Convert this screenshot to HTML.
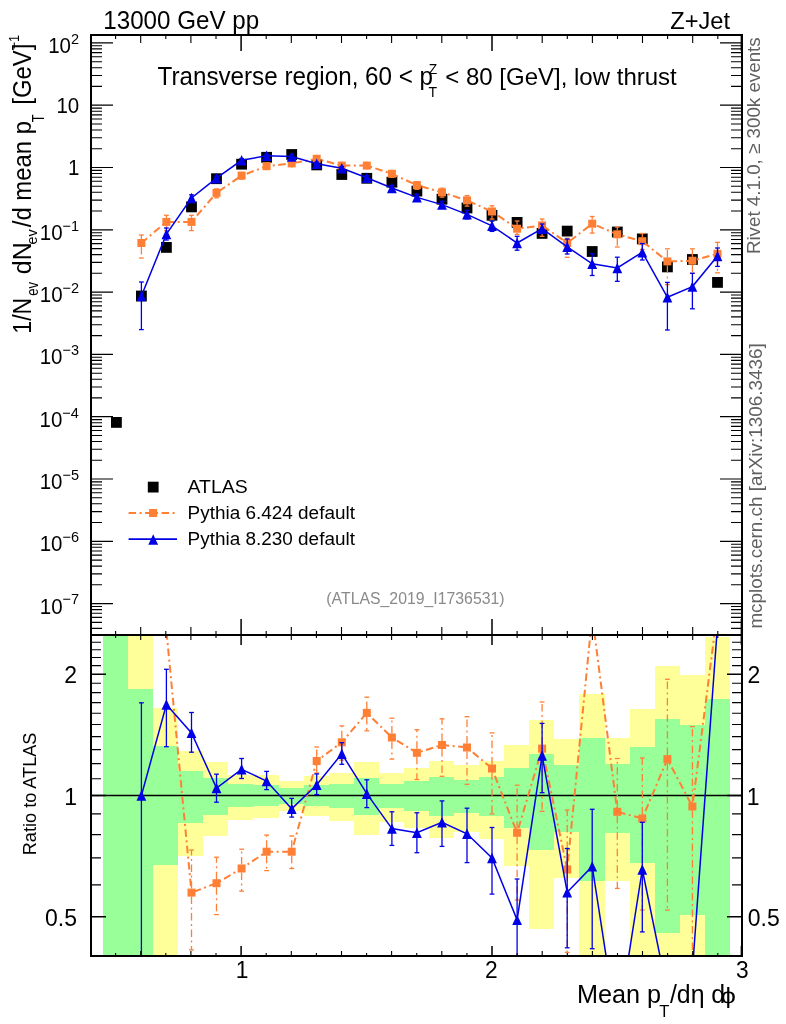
<!DOCTYPE html><html><head><meta charset="utf-8"><title>Z+Jet</title><style>html,body{margin:0;padding:0;background:#fff;}svg{display:block;}text{font-family:'Liberation Sans', Arial, Helvetica, sans-serif;}</style></head><body>
<svg width="786" height="1024" viewBox="0 0 786 1024">
<rect width="786" height="1024" fill="#fff"/>
<defs><clipPath id="ct"><rect x="91" y="35" width="651" height="600"/></clipPath>
<clipPath id="cr"><rect x="91" y="635" width="651" height="321"/></clipPath></defs>
<g clip-path="url(#cr)" shape-rendering="crispEdges">
<rect x="102.9" y="600" width="25.1" height="400" fill="#ffff99"/>
<rect x="102.9" y="600" width="25.1" height="400" fill="#99ff99"/>
<rect x="128" y="600" width="25.1" height="400" fill="#ffff99"/>
<rect x="128" y="689.4" width="25.1" height="310.6" fill="#99ff99"/>
<rect x="153.1" y="707.7" width="25.1" height="292.3" fill="#ffff99"/>
<rect x="153.1" y="746.1" width="25.1" height="118.6" fill="#99ff99"/>
<rect x="178.1" y="750.5" width="25.1" height="105.1" fill="#ffff99"/>
<rect x="178.1" y="771.3" width="25.1" height="51.9" fill="#99ff99"/>
<rect x="203.2" y="762.3" width="25.1" height="73.6" fill="#ffff99"/>
<rect x="203.2" y="778" width="25.1" height="37.2" fill="#99ff99"/>
<rect x="228.3" y="774.7" width="25.1" height="45.3" fill="#ffff99"/>
<rect x="228.3" y="784.3" width="25.1" height="22.8" fill="#99ff99"/>
<rect x="253.4" y="774.8" width="25.1" height="42.7" fill="#ffff99"/>
<rect x="253.4" y="785" width="25.1" height="21.3" fill="#99ff99"/>
<rect x="278.5" y="780.8" width="25.1" height="30.4" fill="#ffff99"/>
<rect x="278.5" y="788" width="25.1" height="15.8" fill="#99ff99"/>
<rect x="303.5" y="776.3" width="25.1" height="40.1" fill="#ffff99"/>
<rect x="303.5" y="785.2" width="25.1" height="20.6" fill="#99ff99"/>
<rect x="328.6" y="773.2" width="25.1" height="48" fill="#ffff99"/>
<rect x="328.6" y="783.9" width="25.1" height="24.1" fill="#99ff99"/>
<rect x="353.7" y="762.2" width="25.1" height="73.1" fill="#ffff99"/>
<rect x="353.7" y="778.2" width="25.1" height="36.8" fill="#99ff99"/>
<rect x="378.8" y="773.4" width="25.1" height="48.3" fill="#ffff99"/>
<rect x="378.8" y="783.9" width="25.1" height="24.1" fill="#99ff99"/>
<rect x="403.9" y="767.6" width="25.1" height="60.4" fill="#ffff99"/>
<rect x="403.9" y="780.9" width="25.1" height="30.2" fill="#99ff99"/>
<rect x="428.9" y="761.2" width="25.1" height="76.8" fill="#ffff99"/>
<rect x="428.9" y="777" width="25.1" height="39" fill="#99ff99"/>
<rect x="454" y="765" width="25.1" height="67.4" fill="#ffff99"/>
<rect x="454" y="779.5" width="25.1" height="33.3" fill="#99ff99"/>
<rect x="479.1" y="761.2" width="25.1" height="77.9" fill="#ffff99"/>
<rect x="479.1" y="777" width="25.1" height="39" fill="#99ff99"/>
<rect x="504.2" y="745" width="25.1" height="121.4" fill="#ffff99"/>
<rect x="504.2" y="767.9" width="25.1" height="59.6" fill="#99ff99"/>
<rect x="529.3" y="720.3" width="25.1" height="208.4" fill="#ffff99"/>
<rect x="529.3" y="753.8" width="25.1" height="96.2" fill="#99ff99"/>
<rect x="554.3" y="739.2" width="25.1" height="138.7" fill="#ffff99"/>
<rect x="554.3" y="765" width="25.1" height="66.7" fill="#99ff99"/>
<rect x="579.4" y="694" width="25.1" height="306" fill="#ffff99"/>
<rect x="579.4" y="738.1" width="25.1" height="142.9" fill="#99ff99"/>
<rect x="604.5" y="738.1" width="25.1" height="143" fill="#ffff99"/>
<rect x="604.5" y="763.9" width="25.1" height="69.5" fill="#99ff99"/>
<rect x="629.6" y="708.7" width="25.1" height="291.3" fill="#ffff99"/>
<rect x="629.6" y="746.5" width="25.1" height="116.7" fill="#99ff99"/>
<rect x="654.7" y="666.1" width="25.1" height="333.9" fill="#ffff99"/>
<rect x="654.7" y="719.2" width="25.1" height="213.3" fill="#99ff99"/>
<rect x="679.7" y="674.5" width="25.1" height="325.5" fill="#ffff99"/>
<rect x="679.7" y="724.9" width="25.1" height="190.1" fill="#99ff99"/>
<rect x="704.8" y="637.3" width="25.1" height="362.7" fill="#ffff99"/>
<rect x="704.8" y="698.9" width="25.1" height="301.1" fill="#99ff99"/>
</g>
<line x1="91" y1="795.5" x2="742" y2="795.5" stroke="#000" stroke-width="1.6"/>
<g clip-path="url(#cr)" stroke="#ff7f35" stroke-width="1.3" fill="none"><line x1="191.5" y1="888.6" x2="191.5" y2="850" stroke-dasharray="7.5 3.5 2 3.5"/><line x1="191.5" y1="896.6" x2="191.5" y2="949.9" stroke-dasharray="7.5 3.5 2 3.5"/><line x1="189.1" y1="850" x2="193.9" y2="850"/><line x1="189.1" y1="949.9" x2="193.9" y2="949.9"/><line x1="216.5" y1="879.2" x2="216.5" y2="857.2" stroke-dasharray="7.5 3.5 2 3.5"/><line x1="216.5" y1="887.2" x2="216.5" y2="914.6" stroke-dasharray="7.5 3.5 2 3.5"/><line x1="214.1" y1="857.2" x2="218.9" y2="857.2"/><line x1="214.1" y1="914.6" x2="218.9" y2="914.6"/><line x1="241.6" y1="864.5" x2="241.6" y2="849.2" stroke-dasharray="7.5 3.5 2 3.5"/><line x1="241.6" y1="872.5" x2="241.6" y2="891.1" stroke-dasharray="7.5 3.5 2 3.5"/><line x1="239.2" y1="849.2" x2="244" y2="849.2"/><line x1="239.2" y1="891.1" x2="244" y2="891.1"/><line x1="266.6" y1="847.7" x2="266.6" y2="835.1" stroke-dasharray="7.5 3.5 2 3.5"/><line x1="266.6" y1="855.7" x2="266.6" y2="870.6" stroke-dasharray="7.5 3.5 2 3.5"/><line x1="264.2" y1="835.1" x2="269" y2="835.1"/><line x1="264.2" y1="870.6" x2="269" y2="870.6"/><line x1="291.7" y1="847.7" x2="291.7" y2="836" stroke-dasharray="7.5 3.5 2 3.5"/><line x1="291.7" y1="855.7" x2="291.7" y2="868.5" stroke-dasharray="7.5 3.5 2 3.5"/><line x1="289.3" y1="836" x2="294.1" y2="836"/><line x1="289.3" y1="868.5" x2="294.1" y2="868.5"/><line x1="316.7" y1="757" x2="316.7" y2="747" stroke-dasharray="7.5 3.5 2 3.5"/><line x1="316.7" y1="765" x2="316.7" y2="773" stroke-dasharray="7.5 3.5 2 3.5"/><line x1="314.3" y1="747" x2="319.1" y2="747"/><line x1="314.3" y1="773" x2="319.1" y2="773"/><line x1="341.8" y1="738.3" x2="341.8" y2="725.9" stroke-dasharray="7.5 3.5 2 3.5"/><line x1="341.8" y1="746.3" x2="341.8" y2="760.1" stroke-dasharray="7.5 3.5 2 3.5"/><line x1="339.4" y1="725.9" x2="344.2" y2="725.9"/><line x1="339.4" y1="760.1" x2="344.2" y2="760.1"/><line x1="366.8" y1="708.9" x2="366.8" y2="697.2" stroke-dasharray="7.5 3.5 2 3.5"/><line x1="366.8" y1="716.9" x2="366.8" y2="730.8" stroke-dasharray="7.5 3.5 2 3.5"/><line x1="364.4" y1="697.2" x2="369.2" y2="697.2"/><line x1="364.4" y1="730.8" x2="369.2" y2="730.8"/><line x1="391.9" y1="733.5" x2="391.9" y2="718.2" stroke-dasharray="7.5 3.5 2 3.5"/><line x1="391.9" y1="741.5" x2="391.9" y2="759.1" stroke-dasharray="7.5 3.5 2 3.5"/><line x1="389.5" y1="718.2" x2="394.3" y2="718.2"/><line x1="389.5" y1="759.1" x2="394.3" y2="759.1"/><line x1="416.9" y1="748.8" x2="416.9" y2="729.7" stroke-dasharray="7.5 3.5 2 3.5"/><line x1="416.9" y1="756.8" x2="416.9" y2="779.5" stroke-dasharray="7.5 3.5 2 3.5"/><line x1="414.5" y1="729.7" x2="419.3" y2="729.7"/><line x1="414.5" y1="779.5" x2="419.3" y2="779.5"/><line x1="442" y1="741" x2="442" y2="718.8" stroke-dasharray="7.5 3.5 2 3.5"/><line x1="442" y1="749" x2="442" y2="776.3" stroke-dasharray="7.5 3.5 2 3.5"/><line x1="439.6" y1="718.8" x2="444.4" y2="718.8"/><line x1="439.6" y1="776.3" x2="444.4" y2="776.3"/><line x1="467" y1="743.5" x2="467" y2="716.7" stroke-dasharray="7.5 3.5 2 3.5"/><line x1="467" y1="751.5" x2="467" y2="784.3" stroke-dasharray="7.5 3.5 2 3.5"/><line x1="464.6" y1="716.7" x2="469.4" y2="716.7"/><line x1="464.6" y1="784.3" x2="469.4" y2="784.3"/><line x1="492" y1="764.5" x2="492" y2="732.9" stroke-dasharray="7.5 3.5 2 3.5"/><line x1="492" y1="772.5" x2="492" y2="813.9" stroke-dasharray="7.5 3.5 2 3.5"/><line x1="489.6" y1="732.9" x2="494.4" y2="732.9"/><line x1="489.6" y1="813.9" x2="494.4" y2="813.9"/><line x1="517.1" y1="828.8" x2="517.1" y2="785.2" stroke-dasharray="7.5 3.5 2 3.5"/><line x1="517.1" y1="836.8" x2="517.1" y2="900" stroke-dasharray="7.5 3.5 2 3.5"/><line x1="514.7" y1="785.2" x2="519.5" y2="785.2"/><line x1="514.7" y1="900" x2="519.5" y2="900"/><line x1="542.1" y1="744.6" x2="542.1" y2="702" stroke-dasharray="7.5 3.5 2 3.5"/><line x1="542.1" y1="752.6" x2="542.1" y2="811.3" stroke-dasharray="7.5 3.5 2 3.5"/><line x1="539.7" y1="702" x2="544.5" y2="702"/><line x1="539.7" y1="811.3" x2="544.5" y2="811.3"/><line x1="567.2" y1="865.5" x2="567.2" y2="810.1" stroke-dasharray="7.5 3.5 2 3.5"/><line x1="567.2" y1="873.5" x2="567.2" y2="952.4" stroke-dasharray="7.5 3.5 2 3.5"/><line x1="564.8" y1="810.1" x2="569.6" y2="810.1"/><line x1="564.8" y1="952.4" x2="569.6" y2="952.4"/><line x1="617.3" y1="807.8" x2="617.3" y2="758.5" stroke-dasharray="7.5 3.5 2 3.5"/><line x1="617.3" y1="815.8" x2="617.3" y2="888.4" stroke-dasharray="7.5 3.5 2 3.5"/><line x1="614.9" y1="758.5" x2="619.7" y2="758.5"/><line x1="614.9" y1="888.4" x2="619.7" y2="888.4"/><line x1="642.3" y1="814.5" x2="642.3" y2="758" stroke-dasharray="7.5 3.5 2 3.5"/><line x1="642.3" y1="822.5" x2="642.3" y2="910" stroke-dasharray="7.5 3.5 2 3.5"/><line x1="639.9" y1="758" x2="644.7" y2="758"/><line x1="639.9" y1="910" x2="644.7" y2="910"/><line x1="667.4" y1="755.1" x2="667.4" y2="679.3" stroke-dasharray="7.5 3.5 2 3.5"/><line x1="667.4" y1="763.1" x2="667.4" y2="910" stroke-dasharray="7.5 3.5 2 3.5"/><line x1="665" y1="679.3" x2="669.8" y2="679.3"/><line x1="665" y1="910" x2="669.8" y2="910"/><line x1="692.4" y1="802.5" x2="692.4" y2="726.6" stroke-dasharray="7.5 3.5 2 3.5"/><line x1="692.4" y1="810.5" x2="692.4" y2="1000" stroke-dasharray="7.5 3.5 2 3.5"/><line x1="690" y1="726.6" x2="694.8" y2="726.6"/><line x1="690" y1="1000" x2="694.8" y2="1000"/></g>
<g clip-path="url(#cr)"><polyline points="141.4,452.5 166.4,630.6 191.5,892.6 216.5,883.2 241.6,868.5 266.6,851.7 291.7,851.7 316.7,761 341.8,742.3 366.8,712.9 391.9,737.5 416.9,752.8 442,745 467,747.5 492,768.5 517.1,832.8 542.1,748.6 567.2,869.5 592.2,615.7 617.3,811.8 642.3,818.5 667.4,759.1 692.4,806.5 717.5,610.5" fill="none" stroke="#ff7f35" stroke-width="2" stroke-dasharray="7.5 3.5 2 3.5" stroke-linejoin="miter"/></g>
<g clip-path="url(#cr)" fill="#ff7f35"><rect x="137.4" y="448.5" width="8" height="8"/><rect x="162.4" y="626.6" width="8" height="8"/><rect x="187.5" y="888.6" width="8" height="8"/><rect x="212.5" y="879.2" width="8" height="8"/><rect x="237.6" y="864.5" width="8" height="8"/><rect x="262.6" y="847.7" width="8" height="8"/><rect x="287.7" y="847.7" width="8" height="8"/><rect x="312.7" y="757" width="8" height="8"/><rect x="337.8" y="738.3" width="8" height="8"/><rect x="362.8" y="708.9" width="8" height="8"/><rect x="387.9" y="733.5" width="8" height="8"/><rect x="412.9" y="748.8" width="8" height="8"/><rect x="438" y="741" width="8" height="8"/><rect x="463" y="743.5" width="8" height="8"/><rect x="488" y="764.5" width="8" height="8"/><rect x="513.1" y="828.8" width="8" height="8"/><rect x="538.1" y="744.6" width="8" height="8"/><rect x="563.2" y="865.5" width="8" height="8"/><rect x="588.2" y="611.7" width="8" height="8"/><rect x="613.3" y="807.8" width="8" height="8"/><rect x="638.3" y="814.5" width="8" height="8"/><rect x="663.4" y="755.1" width="8" height="8"/><rect x="688.4" y="802.5" width="8" height="8"/><rect x="713.5" y="606.5" width="8" height="8"/></g>
<g clip-path="url(#cr)" stroke="#0000e6" stroke-width="1.3" fill="none"><line x1="141.4" y1="702.8" x2="141.4" y2="1000"/><line x1="139" y1="702.8" x2="143.8" y2="702.8"/><line x1="139" y1="1000" x2="143.8" y2="1000"/><line x1="166.4" y1="669.3" x2="166.4" y2="746.7"/><line x1="164" y1="669.3" x2="168.8" y2="669.3"/><line x1="164" y1="746.7" x2="168.8" y2="746.7"/><line x1="191.5" y1="712.5" x2="191.5" y2="752.2"/><line x1="189.1" y1="712.5" x2="193.9" y2="712.5"/><line x1="189.1" y1="752.2" x2="193.9" y2="752.2"/><line x1="216.5" y1="774.2" x2="216.5" y2="802.2"/><line x1="214.1" y1="774.2" x2="218.9" y2="774.2"/><line x1="214.1" y1="802.2" x2="218.9" y2="802.2"/><line x1="241.6" y1="758.5" x2="241.6" y2="778.5"/><line x1="239.2" y1="758.5" x2="244" y2="758.5"/><line x1="239.2" y1="778.5" x2="244" y2="778.5"/><line x1="266.6" y1="771.4" x2="266.6" y2="789.6"/><line x1="264.2" y1="771.4" x2="269" y2="771.4"/><line x1="264.2" y1="789.6" x2="269" y2="789.6"/><line x1="291.7" y1="798.4" x2="291.7" y2="817.1"/><line x1="289.3" y1="798.4" x2="294.1" y2="798.4"/><line x1="289.3" y1="817.1" x2="294.1" y2="817.1"/><line x1="316.7" y1="773.9" x2="316.7" y2="794.6"/><line x1="314.3" y1="773.9" x2="319.1" y2="773.9"/><line x1="314.3" y1="794.6" x2="319.1" y2="794.6"/><line x1="341.8" y1="742.7" x2="341.8" y2="764.3"/><line x1="339.4" y1="742.7" x2="344.2" y2="742.7"/><line x1="339.4" y1="764.3" x2="344.2" y2="764.3"/><line x1="366.8" y1="779.8" x2="366.8" y2="807.6"/><line x1="364.4" y1="779.8" x2="369.2" y2="779.8"/><line x1="364.4" y1="807.6" x2="369.2" y2="807.6"/><line x1="391.9" y1="811.8" x2="391.9" y2="845.4"/><line x1="389.5" y1="811.8" x2="394.3" y2="811.8"/><line x1="389.5" y1="845.4" x2="394.3" y2="845.4"/><line x1="416.9" y1="812.8" x2="416.9" y2="852.7"/><line x1="414.5" y1="812.8" x2="419.3" y2="812.8"/><line x1="414.5" y1="852.7" x2="419.3" y2="852.7"/><line x1="442" y1="800.9" x2="442" y2="846.4"/><line x1="439.6" y1="800.9" x2="444.4" y2="800.9"/><line x1="439.6" y1="846.4" x2="444.4" y2="846.4"/><line x1="467" y1="808.2" x2="467" y2="862.6"/><line x1="464.6" y1="808.2" x2="469.4" y2="808.2"/><line x1="464.6" y1="862.6" x2="469.4" y2="862.6"/><line x1="492" y1="827.5" x2="492" y2="894.1"/><line x1="489.6" y1="827.5" x2="494.4" y2="827.5"/><line x1="489.6" y1="894.1" x2="494.4" y2="894.1"/><line x1="517.1" y1="879" x2="517.1" y2="1000"/><line x1="514.7" y1="879" x2="519.5" y2="879"/><line x1="514.7" y1="1000" x2="519.5" y2="1000"/><line x1="542.1" y1="723.4" x2="542.1" y2="792.7"/><line x1="539.7" y1="723.4" x2="544.5" y2="723.4"/><line x1="539.7" y1="792.7" x2="544.5" y2="792.7"/><line x1="567.2" y1="848.5" x2="567.2" y2="947.8"/><line x1="564.8" y1="848.5" x2="569.6" y2="848.5"/><line x1="564.8" y1="947.8" x2="569.6" y2="947.8"/><line x1="592.2" y1="809.3" x2="592.2" y2="948.7"/><line x1="589.8" y1="809.3" x2="594.6" y2="809.3"/><line x1="589.8" y1="948.7" x2="594.6" y2="948.7"/><line x1="642.3" y1="822.3" x2="642.3" y2="931.9"/><line x1="639.9" y1="822.3" x2="644.7" y2="822.3"/><line x1="639.9" y1="931.9" x2="644.7" y2="931.9"/></g>
<g clip-path="url(#cr)"><polyline points="141.4,795.5 166.4,704.5 191.5,732.9 216.5,788 241.6,769.3 266.6,781 291.7,808.8 316.7,784.7 341.8,753.8 366.8,793.7 391.9,828.6 416.9,832.8 442,822.3 467,833.8 492,858 517.1,919.9 542.1,755.5 567.2,892.2 592.2,866.4 617.3,1028.4 642.3,869.5 667.4,992.2 692.4,970.8 717.5,625.4" fill="none" stroke="#0000e6" stroke-width="1.5"  stroke-linejoin="miter"/></g>
<g clip-path="url(#cr)" fill="#0000e6"><polygon points="136.5,800.7 146.3,800.7 141.4,790.3"/><polygon points="161.5,709.7 171.3,709.7 166.4,699.3"/><polygon points="186.6,738.1 196.4,738.1 191.5,727.7"/><polygon points="211.6,793.2 221.4,793.2 216.5,782.8"/><polygon points="236.7,774.5 246.5,774.5 241.6,764.1"/><polygon points="261.7,786.2 271.5,786.2 266.6,775.8"/><polygon points="286.8,814 296.6,814 291.7,803.6"/><polygon points="311.8,789.9 321.6,789.9 316.7,779.5"/><polygon points="336.9,759 346.7,759 341.8,748.6"/><polygon points="361.9,798.9 371.7,798.9 366.8,788.5"/><polygon points="387,833.8 396.8,833.8 391.9,823.4"/><polygon points="412,838 421.8,838 416.9,827.6"/><polygon points="437.1,827.5 446.9,827.5 442,817.1"/><polygon points="462.1,839 471.9,839 467,828.6"/><polygon points="487.1,863.2 496.9,863.2 492,852.8"/><polygon points="512.2,925.1 522,925.1 517.1,914.7"/><polygon points="537.2,760.7 547,760.7 542.1,750.3"/><polygon points="562.3,897.4 572.1,897.4 567.2,887"/><polygon points="587.3,871.6 597.1,871.6 592.2,861.2"/><polygon points="612.4,1033.6 622.2,1033.6 617.3,1023.2"/><polygon points="637.4,874.7 647.2,874.7 642.3,864.3"/><polygon points="662.5,997.4 672.3,997.4 667.4,987"/><polygon points="687.5,976 697.3,976 692.4,965.6"/><polygon points="712.6,630.6 722.4,630.6 717.5,620.2"/></g>
<g clip-path="url(#ct)" fill="#000"><rect x="111" y="417" width="10.8" height="10.8"/><rect x="136" y="290.6" width="10.8" height="10.8"/><rect x="161" y="242" width="10.8" height="10.8"/><rect x="186.1" y="201.5" width="10.8" height="10.8"/><rect x="211.1" y="173.3" width="10.8" height="10.8"/><rect x="236.2" y="158.8" width="10.8" height="10.8"/><rect x="261.2" y="151.9" width="10.8" height="10.8"/><rect x="286.3" y="149.1" width="10.8" height="10.8"/><rect x="311.3" y="159.5" width="10.8" height="10.8"/><rect x="336.4" y="169.1" width="10.8" height="10.8"/><rect x="361.4" y="172.9" width="10.8" height="10.8"/><rect x="386.5" y="176.8" width="10.8" height="10.8"/><rect x="411.5" y="185.7" width="10.8" height="10.8"/><rect x="436.6" y="193.8" width="10.8" height="10.8"/><rect x="461.6" y="202.6" width="10.8" height="10.8"/><rect x="486.6" y="209.9" width="10.8" height="10.8"/><rect x="511.7" y="217" width="10.8" height="10.8"/><rect x="536.7" y="228" width="10.8" height="10.8"/><rect x="561.8" y="225.7" width="10.8" height="10.8"/><rect x="586.8" y="246.1" width="10.8" height="10.8"/><rect x="611.9" y="226.6" width="10.8" height="10.8"/><rect x="636.9" y="233.5" width="10.8" height="10.8"/><rect x="662" y="261.5" width="10.8" height="10.8"/><rect x="687" y="254.1" width="10.8" height="10.8"/><rect x="712.1" y="277" width="10.8" height="10.8"/></g>
<g clip-path="url(#ct)" stroke="#ff7f35" stroke-width="1.3" fill="none"><line x1="141.4" y1="239" x2="141.4" y2="235" stroke-dasharray="7.5 3.5 2 3.5"/><line x1="141.4" y1="247" x2="141.4" y2="258" stroke-dasharray="7.5 3.5 2 3.5"/><line x1="139" y1="235" x2="143.8" y2="235"/><line x1="139" y1="258" x2="143.8" y2="258"/><line x1="166.4" y1="217.9" x2="166.4" y2="215.3" stroke-dasharray="7.5 3.5 2 3.5"/><line x1="166.4" y1="225.9" x2="166.4" y2="230.6" stroke-dasharray="7.5 3.5 2 3.5"/><line x1="164" y1="215.3" x2="168.8" y2="215.3"/><line x1="164" y1="230.6" x2="168.8" y2="230.6"/><line x1="191.5" y1="217.9" x2="191.5" y2="215.3" stroke-dasharray="7.5 3.5 2 3.5"/><line x1="191.5" y1="225.9" x2="191.5" y2="230.6" stroke-dasharray="7.5 3.5 2 3.5"/><line x1="189.1" y1="215.3" x2="193.9" y2="215.3"/><line x1="189.1" y1="230.6" x2="193.9" y2="230.6"/><line x1="216.5" y1="188.9" x2="216.5" y2="188.9" stroke-dasharray="7.5 3.5 2 3.5"/><line x1="216.5" y1="196.9" x2="216.5" y2="197.8" stroke-dasharray="7.5 3.5 2 3.5"/><line x1="214.1" y1="188.9" x2="218.9" y2="188.9"/><line x1="214.1" y1="197.8" x2="218.9" y2="197.8"/><line x1="241.6" y1="171.6" x2="241.6" y2="172.6" stroke-dasharray="7.5 3.5 2 3.5"/><line x1="241.6" y1="179.6" x2="241.6" y2="179.1" stroke-dasharray="7.5 3.5 2 3.5"/><line x1="239.2" y1="172.6" x2="244" y2="172.6"/><line x1="239.2" y1="179.1" x2="244" y2="179.1"/><line x1="266.6" y1="162.2" x2="266.6" y2="163.6" stroke-dasharray="7.5 3.5 2 3.5"/><line x1="266.6" y1="170.2" x2="266.6" y2="169.1" stroke-dasharray="7.5 3.5 2 3.5"/><line x1="264.2" y1="163.6" x2="269" y2="163.6"/><line x1="264.2" y1="169.1" x2="269" y2="169.1"/><line x1="291.7" y1="159.4" x2="291.7" y2="161" stroke-dasharray="7.5 3.5 2 3.5"/><line x1="291.7" y1="167.4" x2="291.7" y2="166" stroke-dasharray="7.5 3.5 2 3.5"/><line x1="289.3" y1="161" x2="294.1" y2="161"/><line x1="289.3" y1="166" x2="294.1" y2="166"/><line x1="316.7" y1="154.8" x2="316.7" y2="156.6" stroke-dasharray="7.5 3.5 2 3.5"/><line x1="316.7" y1="162.8" x2="316.7" y2="160.7" stroke-dasharray="7.5 3.5 2 3.5"/><line x1="314.3" y1="156.6" x2="319.1" y2="156.6"/><line x1="314.3" y1="160.7" x2="319.1" y2="160.7"/><line x1="341.8" y1="161.6" x2="341.8" y2="163.1" stroke-dasharray="7.5 3.5 2 3.5"/><line x1="341.8" y1="169.6" x2="341.8" y2="168.4" stroke-dasharray="7.5 3.5 2 3.5"/><line x1="339.4" y1="163.1" x2="344.2" y2="163.1"/><line x1="339.4" y1="168.4" x2="344.2" y2="168.4"/><line x1="366.8" y1="161.6" x2="366.8" y2="163.2" stroke-dasharray="7.5 3.5 2 3.5"/><line x1="366.8" y1="169.6" x2="366.8" y2="168.4" stroke-dasharray="7.5 3.5 2 3.5"/><line x1="364.4" y1="163.2" x2="369.2" y2="163.2"/><line x1="364.4" y1="168.4" x2="369.2" y2="168.4"/><line x1="391.9" y1="169.8" x2="391.9" y2="170.8" stroke-dasharray="7.5 3.5 2 3.5"/><line x1="391.9" y1="177.8" x2="391.9" y2="177.1" stroke-dasharray="7.5 3.5 2 3.5"/><line x1="389.5" y1="170.8" x2="394.3" y2="170.8"/><line x1="389.5" y1="177.1" x2="394.3" y2="177.1"/><line x1="416.9" y1="181.2" x2="416.9" y2="181.6" stroke-dasharray="7.5 3.5 2 3.5"/><line x1="416.9" y1="189.2" x2="416.9" y2="189.3" stroke-dasharray="7.5 3.5 2 3.5"/><line x1="414.5" y1="181.6" x2="419.3" y2="181.6"/><line x1="414.5" y1="189.3" x2="419.3" y2="189.3"/><line x1="442" y1="188.3" x2="442" y2="188.2" stroke-dasharray="7.5 3.5 2 3.5"/><line x1="442" y1="196.3" x2="442" y2="197.1" stroke-dasharray="7.5 3.5 2 3.5"/><line x1="439.6" y1="188.2" x2="444.4" y2="188.2"/><line x1="439.6" y1="197.1" x2="444.4" y2="197.1"/><line x1="467" y1="196.4" x2="467" y2="195.6" stroke-dasharray="7.5 3.5 2 3.5"/><line x1="467" y1="204.4" x2="467" y2="206.1" stroke-dasharray="7.5 3.5 2 3.5"/><line x1="464.6" y1="195.6" x2="469.4" y2="195.6"/><line x1="464.6" y1="206.1" x2="469.4" y2="206.1"/><line x1="492" y1="207.5" x2="492" y2="205.8" stroke-dasharray="7.5 3.5 2 3.5"/><line x1="492" y1="215.5" x2="492" y2="219.1" stroke-dasharray="7.5 3.5 2 3.5"/><line x1="489.6" y1="205.8" x2="494.4" y2="205.8"/><line x1="489.6" y1="219.1" x2="494.4" y2="219.1"/><line x1="517.1" y1="224.7" x2="517.1" y2="221" stroke-dasharray="7.5 3.5 2 3.5"/><line x1="517.1" y1="232.7" x2="517.1" y2="234.4" stroke-dasharray="7.5 3.5 2 3.5"/><line x1="514.7" y1="221" x2="519.5" y2="221"/><line x1="514.7" y1="234.4" x2="519.5" y2="234.4"/><line x1="542.1" y1="221.4" x2="542.1" y2="219" stroke-dasharray="7.5 3.5 2 3.5"/><line x1="542.1" y1="229.4" x2="542.1" y2="236.3" stroke-dasharray="7.5 3.5 2 3.5"/><line x1="539.7" y1="219" x2="544.5" y2="219"/><line x1="539.7" y1="236.3" x2="544.5" y2="236.3"/><line x1="567.2" y1="239" x2="567.2" y2="238.2" stroke-dasharray="7.5 3.5 2 3.5"/><line x1="567.2" y1="247" x2="567.2" y2="257.3" stroke-dasharray="7.5 3.5 2 3.5"/><line x1="564.8" y1="238.2" x2="569.6" y2="238.2"/><line x1="564.8" y1="257.3" x2="569.6" y2="257.3"/><line x1="592.2" y1="219.7" x2="592.2" y2="216.5" stroke-dasharray="7.5 3.5 2 3.5"/><line x1="592.2" y1="227.7" x2="592.2" y2="233.1" stroke-dasharray="7.5 3.5 2 3.5"/><line x1="589.8" y1="216.5" x2="594.6" y2="216.5"/><line x1="589.8" y1="233.1" x2="594.6" y2="233.1"/><line x1="617.3" y1="230.3" x2="617.3" y2="227" stroke-dasharray="7.5 3.5 2 3.5"/><line x1="617.3" y1="238.3" x2="617.3" y2="247" stroke-dasharray="7.5 3.5 2 3.5"/><line x1="614.9" y1="227" x2="619.7" y2="227"/><line x1="614.9" y1="247" x2="619.7" y2="247"/><line x1="642.3" y1="237.2" x2="642.3" y2="233.5" stroke-dasharray="7.5 3.5 2 3.5"/><line x1="642.3" y1="245.2" x2="642.3" y2="249.5" stroke-dasharray="7.5 3.5 2 3.5"/><line x1="639.9" y1="233.5" x2="644.7" y2="233.5"/><line x1="639.9" y1="249.5" x2="644.7" y2="249.5"/><line x1="667.4" y1="257.4" x2="667.4" y2="248.8" stroke-dasharray="7.5 3.5 2 3.5"/><line x1="667.4" y1="265.4" x2="667.4" y2="284.7" stroke-dasharray="7.5 3.5 2 3.5"/><line x1="665" y1="248.8" x2="669.8" y2="248.8"/><line x1="665" y1="284.7" x2="669.8" y2="284.7"/><line x1="692.4" y1="256.7" x2="692.4" y2="248.8" stroke-dasharray="7.5 3.5 2 3.5"/><line x1="692.4" y1="264.7" x2="692.4" y2="273.3" stroke-dasharray="7.5 3.5 2 3.5"/><line x1="690" y1="248.8" x2="694.8" y2="248.8"/><line x1="690" y1="273.3" x2="694.8" y2="273.3"/><line x1="717.5" y1="249.8" x2="717.5" y2="242.4" stroke-dasharray="7.5 3.5 2 3.5"/><line x1="717.5" y1="257.8" x2="717.5" y2="272.8" stroke-dasharray="7.5 3.5 2 3.5"/><line x1="715.1" y1="242.4" x2="719.9" y2="242.4"/><line x1="715.1" y1="272.8" x2="719.9" y2="272.8"/></g>
<g clip-path="url(#ct)"><polyline points="141.4,243 166.4,221.9 191.5,221.9 216.5,192.9 241.6,175.6 266.6,166.2 291.7,163.4 316.7,158.8 341.8,165.6 366.8,165.6 391.9,173.8 416.9,185.2 442,192.3 467,200.4 492,211.5 517.1,228.7 542.1,225.4 567.2,243 592.2,223.7 617.3,234.3 642.3,241.2 667.4,261.4 692.4,260.7 717.5,253.8" fill="none" stroke="#ff7f35" stroke-width="2" stroke-dasharray="7.5 3.5 2 3.5" stroke-linejoin="miter"/></g>
<g clip-path="url(#ct)" fill="#ff7f35"><rect x="137.4" y="239" width="8" height="8"/><rect x="162.4" y="217.9" width="8" height="8"/><rect x="187.5" y="217.9" width="8" height="8"/><rect x="212.5" y="188.9" width="8" height="8"/><rect x="237.6" y="171.6" width="8" height="8"/><rect x="262.6" y="162.2" width="8" height="8"/><rect x="287.7" y="159.4" width="8" height="8"/><rect x="312.7" y="154.8" width="8" height="8"/><rect x="337.8" y="161.6" width="8" height="8"/><rect x="362.8" y="161.6" width="8" height="8"/><rect x="387.9" y="169.8" width="8" height="8"/><rect x="412.9" y="181.2" width="8" height="8"/><rect x="438" y="188.3" width="8" height="8"/><rect x="463" y="196.4" width="8" height="8"/><rect x="488" y="207.5" width="8" height="8"/><rect x="513.1" y="224.7" width="8" height="8"/><rect x="538.1" y="221.4" width="8" height="8"/><rect x="563.2" y="239" width="8" height="8"/><rect x="588.2" y="219.7" width="8" height="8"/><rect x="613.3" y="230.3" width="8" height="8"/><rect x="638.3" y="237.2" width="8" height="8"/><rect x="663.4" y="257.4" width="8" height="8"/><rect x="688.4" y="256.7" width="8" height="8"/><rect x="713.5" y="249.8" width="8" height="8"/></g>
<g clip-path="url(#ct)" stroke="#0000e6" stroke-width="1.3" fill="none"><line x1="141.4" y1="282" x2="141.4" y2="329.6"/><line x1="139" y1="282" x2="143.8" y2="282"/><line x1="139" y1="329.6" x2="143.8" y2="329.6"/><line x1="166.4" y1="228" x2="166.4" y2="240"/><line x1="164" y1="228" x2="168.8" y2="228"/><line x1="164" y1="240" x2="168.8" y2="240"/><line x1="191.5" y1="194.8" x2="191.5" y2="201"/><line x1="189.1" y1="194.8" x2="193.9" y2="194.8"/><line x1="189.1" y1="201" x2="193.9" y2="201"/><line x1="216.5" y1="176.1" x2="216.5" y2="180.4"/><line x1="214.1" y1="176.1" x2="218.9" y2="176.1"/><line x1="214.1" y1="180.4" x2="218.9" y2="180.4"/><line x1="241.6" y1="158.6" x2="241.6" y2="161.7"/><line x1="239.2" y1="158.6" x2="244" y2="158.6"/><line x1="239.2" y1="161.7" x2="244" y2="161.7"/><line x1="266.6" y1="154.3" x2="266.6" y2="157.1"/><line x1="264.2" y1="154.3" x2="269" y2="154.3"/><line x1="264.2" y1="157.1" x2="269" y2="157.1"/><line x1="291.7" y1="154.9" x2="291.7" y2="157.8"/><line x1="289.3" y1="154.9" x2="294.1" y2="154.9"/><line x1="289.3" y1="157.8" x2="294.1" y2="157.8"/><line x1="316.7" y1="162.1" x2="316.7" y2="165.3"/><line x1="314.3" y1="162.1" x2="319.1" y2="162.1"/><line x1="314.3" y1="165.3" x2="319.1" y2="165.3"/><line x1="341.8" y1="166.5" x2="341.8" y2="169.8"/><line x1="339.4" y1="166.5" x2="344.2" y2="166.5"/><line x1="339.4" y1="169.8" x2="344.2" y2="169.8"/><line x1="366.8" y1="175.7" x2="366.8" y2="179.9"/><line x1="364.4" y1="175.7" x2="369.2" y2="175.7"/><line x1="364.4" y1="179.9" x2="369.2" y2="179.9"/><line x1="391.9" y1="185.4" x2="391.9" y2="190.6"/><line x1="389.5" y1="185.4" x2="394.3" y2="185.4"/><line x1="389.5" y1="190.6" x2="394.3" y2="190.6"/><line x1="416.9" y1="194.3" x2="416.9" y2="200.5"/><line x1="414.5" y1="194.3" x2="419.3" y2="194.3"/><line x1="414.5" y1="200.5" x2="419.3" y2="200.5"/><line x1="442" y1="201.3" x2="442" y2="208.3"/><line x1="439.6" y1="201.3" x2="444.4" y2="201.3"/><line x1="439.6" y1="208.3" x2="444.4" y2="208.3"/><line x1="467" y1="210.4" x2="467" y2="218.9"/><line x1="464.6" y1="210.4" x2="469.4" y2="210.4"/><line x1="464.6" y1="218.9" x2="469.4" y2="218.9"/><line x1="492" y1="221.1" x2="492" y2="231.4"/><line x1="489.6" y1="221.1" x2="494.4" y2="221.1"/><line x1="489.6" y1="231.4" x2="494.4" y2="231.4"/><line x1="517.1" y1="236.3" x2="517.1" y2="250.2"/><line x1="514.7" y1="236.3" x2="519.5" y2="236.3"/><line x1="514.7" y1="250.2" x2="519.5" y2="250.2"/><line x1="542.1" y1="224" x2="542.1" y2="233.5"/><line x1="539.7" y1="224" x2="544.5" y2="224"/><line x1="539.7" y1="233.5" x2="544.5" y2="233.5"/><line x1="567.2" y1="239" x2="567.2" y2="254"/><line x1="564.8" y1="239" x2="569.6" y2="239"/><line x1="564.8" y1="254" x2="569.6" y2="254"/><line x1="592.2" y1="253.7" x2="592.2" y2="275.5"/><line x1="589.8" y1="253.7" x2="594.6" y2="253.7"/><line x1="589.8" y1="275.5" x2="594.6" y2="275.5"/><line x1="617.3" y1="257.2" x2="617.3" y2="281.3"/><line x1="614.9" y1="257.2" x2="619.7" y2="257.2"/><line x1="614.9" y1="281.3" x2="619.7" y2="281.3"/><line x1="642.3" y1="243.5" x2="642.3" y2="260"/><line x1="639.9" y1="243.5" x2="644.7" y2="243.5"/><line x1="639.9" y1="260" x2="644.7" y2="260"/><line x1="667.4" y1="282.4" x2="667.4" y2="330"/><line x1="665" y1="282.4" x2="669.8" y2="282.4"/><line x1="665" y1="330" x2="669.8" y2="330"/><line x1="692.4" y1="273.3" x2="692.4" y2="308.8"/><line x1="690" y1="273.3" x2="694.8" y2="273.3"/><line x1="690" y1="308.8" x2="694.8" y2="308.8"/><line x1="717.5" y1="248" x2="717.5" y2="266.4"/><line x1="715.1" y1="248" x2="719.9" y2="248"/><line x1="715.1" y1="266.4" x2="719.9" y2="266.4"/></g>
<g clip-path="url(#ct)"><polyline points="141.4,296 166.4,234.1 191.5,198 216.5,178.2 241.6,160.3 266.6,155.8 291.7,156.5 316.7,163.8 341.8,168.2 366.8,177.8 391.9,188 416.9,197.4 442,204.6 467,214.4 492,225.8 517.1,243 542.1,228.7 567.2,246.8 592.2,263.8 617.3,268 642.3,252.2 667.4,297.3 692.4,286.6 717.5,256.1" fill="none" stroke="#0000e6" stroke-width="1.5"  stroke-linejoin="miter"/></g>
<g clip-path="url(#ct)" fill="#0000e6"><polygon points="136.5,301.2 146.3,301.2 141.4,290.8"/><polygon points="161.5,239.3 171.3,239.3 166.4,228.9"/><polygon points="186.6,203.2 196.4,203.2 191.5,192.8"/><polygon points="211.6,183.4 221.4,183.4 216.5,173"/><polygon points="236.7,165.5 246.5,165.5 241.6,155.1"/><polygon points="261.7,161 271.5,161 266.6,150.6"/><polygon points="286.8,161.7 296.6,161.7 291.7,151.3"/><polygon points="311.8,169 321.6,169 316.7,158.6"/><polygon points="336.9,173.4 346.7,173.4 341.8,163"/><polygon points="361.9,183 371.7,183 366.8,172.6"/><polygon points="387,193.2 396.8,193.2 391.9,182.8"/><polygon points="412,202.6 421.8,202.6 416.9,192.2"/><polygon points="437.1,209.8 446.9,209.8 442,199.4"/><polygon points="462.1,219.6 471.9,219.6 467,209.2"/><polygon points="487.1,231 496.9,231 492,220.6"/><polygon points="512.2,248.2 522,248.2 517.1,237.8"/><polygon points="537.2,233.9 547,233.9 542.1,223.5"/><polygon points="562.3,252 572.1,252 567.2,241.6"/><polygon points="587.3,269 597.1,269 592.2,258.6"/><polygon points="612.4,273.2 622.2,273.2 617.3,262.8"/><polygon points="637.4,257.4 647.2,257.4 642.3,247"/><polygon points="662.5,302.5 672.3,302.5 667.4,292.1"/><polygon points="687.5,291.8 697.3,291.8 692.4,281.4"/><polygon points="712.6,261.3 722.4,261.3 717.5,250.9"/></g>
<path d="M90.6 35v8M90.6 635v-8M90.6 635v5M90.6 956v-5M115.6 35v4M115.6 635v-4M115.6 635v3M115.6 956v-3M140.7 35v8M140.7 635v-8M140.7 635v5M140.7 956v-5M165.8 35v4M165.8 635v-4M165.8 635v3M165.8 956v-3M190.9 35v8M190.9 635v-8M190.9 635v5M190.9 956v-5M216 35v4M216 635v-4M216 635v3M216 956v-3M266.2 35v4M266.2 635v-4M266.2 635v3M266.2 956v-3M291.3 35v8M291.3 635v-8M291.3 635v5M291.3 956v-5M316.4 35v4M316.4 635v-4M316.4 635v3M316.4 956v-3M341.5 35v8M341.5 635v-8M341.5 635v5M341.5 956v-5M366.6 35v4M366.6 635v-4M366.6 635v3M366.6 956v-3M391.6 35v8M391.6 635v-8M391.6 635v5M391.6 956v-5M416.7 35v4M416.7 635v-4M416.7 635v3M416.7 956v-3M441.8 35v8M441.8 635v-8M441.8 635v5M441.8 956v-5M466.9 35v4M466.9 635v-4M466.9 635v3M466.9 956v-3M517.1 35v4M517.1 635v-4M517.1 635v3M517.1 956v-3M542.2 35v8M542.2 635v-8M542.2 635v5M542.2 956v-5M567.3 35v4M567.3 635v-4M567.3 635v3M567.3 956v-3M592.4 35v8M592.4 635v-8M592.4 635v5M592.4 956v-5M617.5 35v4M617.5 635v-4M617.5 635v3M617.5 956v-3M642.5 35v8M642.5 635v-8M642.5 635v5M642.5 956v-5M667.6 35v4M667.6 635v-4M667.6 635v3M667.6 956v-3M692.7 35v8M692.7 635v-8M692.7 635v5M692.7 956v-5M717.8 35v4M717.8 635v-4M717.8 635v3M717.8 956v-3M91 628.4h11M742 628.4h-11M91 622.4h11M742 622.4h-11M91 617.4h11M742 617.4h-11M91 613.3h11M742 613.3h-11M91 609.6h11M742 609.6h-11M91 606.5h11M742 606.5h-11M91 584.8h11M742 584.8h-11M91 573.9h11M742 573.9h-11M91 566.1h11M742 566.1h-11M91 560.1h11M742 560.1h-11M91 555.1h11M742 555.1h-11M91 551h11M742 551h-11M91 547.3h11M742 547.3h-11M91 544.2h11M742 544.2h-11M91 522.5h11M742 522.5h-11M91 511.6h11M742 511.6h-11M91 503.8h11M742 503.8h-11M91 497.8h11M742 497.8h-11M91 492.8h11M742 492.8h-11M91 488.7h11M742 488.7h-11M91 485h11M742 485h-11M91 481.9h11M742 481.9h-11M91 460.2h11M742 460.2h-11M91 449.3h11M742 449.3h-11M91 441.5h11M742 441.5h-11M91 435.5h11M742 435.5h-11M91 430.5h11M742 430.5h-11M91 426.4h11M742 426.4h-11M91 422.7h11M742 422.7h-11M91 419.6h11M742 419.6h-11M91 397.9h11M742 397.9h-11M91 387h11M742 387h-11M91 379.2h11M742 379.2h-11M91 373.2h11M742 373.2h-11M91 368.2h11M742 368.2h-11M91 364.1h11M742 364.1h-11M91 360.4h11M742 360.4h-11M91 357.3h11M742 357.3h-11M91 335.6h11M742 335.6h-11M91 324.7h11M742 324.7h-11M91 316.9h11M742 316.9h-11M91 310.9h11M742 310.9h-11M91 305.9h11M742 305.9h-11M91 301.8h11M742 301.8h-11M91 298.1h11M742 298.1h-11M91 295h11M742 295h-11M91 273.3h11M742 273.3h-11M91 262.4h11M742 262.4h-11M91 254.6h11M742 254.6h-11M91 248.6h11M742 248.6h-11M91 243.6h11M742 243.6h-11M91 239.5h11M742 239.5h-11M91 235.8h11M742 235.8h-11M91 232.7h11M742 232.7h-11M91 211h11M742 211h-11M91 200.1h11M742 200.1h-11M91 192.3h11M742 192.3h-11M91 186.3h11M742 186.3h-11M91 181.3h11M742 181.3h-11M91 177.2h11M742 177.2h-11M91 173.5h11M742 173.5h-11M91 170.4h11M742 170.4h-11M91 148.7h11M742 148.7h-11M91 137.8h11M742 137.8h-11M91 130h11M742 130h-11M91 124h11M742 124h-11M91 119h11M742 119h-11M91 114.9h11M742 114.9h-11M91 111.2h11M742 111.2h-11M91 108.1h11M742 108.1h-11M91 86.4h11M742 86.4h-11M91 75.5h11M742 75.5h-11M91 67.7h11M742 67.7h-11M91 61.7h11M742 61.7h-11M91 56.7h11M742 56.7h-11M91 52.6h11M742 52.6h-11M91 48.9h11M742 48.9h-11M91 45.8h11M742 45.8h-11M91 955.9h10M742 955.9h-10M91 884.9h10M742 884.9h-10M91 857.9h10M742 857.9h-10M91 834.6h10M742 834.6h-10M91 813.9h10M742 813.9h-10M91 778.8h10M742 778.8h-10M91 763.6h10M742 763.6h-10M91 749.6h10M742 749.6h-10M91 736.6h10M742 736.6h-10M91 724.5h10M742 724.5h-10M91 713.2h10M742 713.2h-10M91 702.6h10M742 702.6h-10M91 692.6h10M742 692.6h-10M91 683.2h10M742 683.2h-10M91 665.6h10M742 665.6h-10M91 657.5h10M742 657.5h-10M91 649.7h10M742 649.7h-10M91 642.3h10M742 642.3h-10M91 635.1h10M742 635.1h-10" stroke="#000" stroke-width="1.1" fill="none"/>
<path d="M241.1 35v16M241.1 635v-16M241.1 635v10M241.1 956v-10M492 35v16M492 635v-16M492 635v10M492 956v-10M741.4 35v16M741.4 635v-16M741.4 635v10M741.4 956v-10M91 916.8h15M742 916.8h-15M91 795.5h15M742 795.5h-15M91 674.2h15M742 674.2h-15" stroke="#000" stroke-width="1.5" fill="none"/>
<path d="M91 603.6h22M742 603.6h-22M91 541.3h22M742 541.3h-22M91 479h22M742 479h-22M91 416.7h22M742 416.7h-22M91 354.4h22M742 354.4h-22M91 292.1h22M742 292.1h-22M91 229.8h22M742 229.8h-22M91 167.5h22M742 167.5h-22M91 105.2h22M742 105.2h-22M91 42.9h22M742 42.9h-22" stroke="#000" stroke-width="1.2" fill="none"/>
<path d="M91 35H742V956H91Z M91 635H742" stroke="#000" stroke-width="2" fill="none"/>
<text transform="translate(103.27,29.30) scale(1.0000,1.0493)" font-size="24.17" fill="#000">13000 GeV pp</text>
<text transform="translate(670.19,29.00) scale(1.0000,1.0507)" font-size="23.65" fill="#000">Z+Jet</text>
<text transform="translate(157.52,85.30) scale(1.0000,1.0297)" font-size="24.21" fill="#000">Transverse region, 60 &lt;</text>
<text transform="translate(419.61,85.30) scale(1.0000,1.0297)" font-size="24.21" fill="#000">p</text>
<text transform="translate(428.69,73.70) scale(1.0000,1.1117)" font-size="13.82" fill="#000">Z</text>
<text transform="translate(428.42,96.80) scale(1.0000,1.0946)" font-size="14.04" fill="#000">T</text>
<text transform="translate(445.20,85.30) scale(1.0000,1.0297)" font-size="24.03" fill="#000">&lt; 80 [GeV], low thrust</text>
<text transform="translate(576.98,1003.20) scale(1.0000,1.0281)" font-size="25.23" fill="#000">Mean p</text>
<text transform="translate(659.17,1016.90) scale(1.0000,0.9931)" font-size="16.49" fill="#000">T</text>
<text transform="translate(669.90,1003.20) scale(1.0000,1.0281)" font-size="24.86" fill="#000">/d&#951; d</text>
<text transform="translate(720.72,1003.20) scale(1.1285,0.9500)" font-size="24.00" fill="#000">&#981;</text>
<text transform="translate(187.50,493.00) scale(1.0000,0.9765)" font-size="19.44" fill="#000">ATLAS</text>
<text transform="translate(187.59,518.70) scale(1.0000,0.9337)" font-size="18.94" fill="#000">Pythia 6.424 default</text>
<text transform="translate(187.59,544.70) scale(1.0000,0.9337)" font-size="18.94" fill="#000">Pythia 8.230 default</text>
<text transform="translate(326.35,603.70) scale(1.0000,1.0254)" font-size="15.83" fill="#8a8a8a">(ATLAS_2019_I1736531)</text>
<text transform="translate(35.90,855.25) rotate(-90) scale(1.0000,0.9743)" font-size="18.15" fill="#000">Ratio to ATLAS</text>
<text transform="translate(759.90,254.10) rotate(-90) scale(1.0000,0.9952)" font-size="18.78" fill="#606060">Rivet 4.1.0, &#8805; 300k events</text>
<text transform="translate(762.00,628.62) rotate(-90) scale(1.0000,0.9399)" font-size="18.88" fill="#606060">mcplots.cern.ch [arXiv:1306.3436]</text>
<text transform="translate(31.20,333.64) rotate(-90) scale(1.0000,1.0838)" font-size="23.00" fill="#000">1/N</text>
<text transform="translate(37.80,295.73) rotate(-90) scale(1.0000,1.2752)" font-size="13.17" fill="#000">ev</text>
<text transform="translate(31.20,274.20) rotate(-90) scale(1.0000,1.0006)" font-size="24.91" fill="#000">dN</text>
<text transform="translate(37.10,244.47) rotate(-90) scale(1.0000,1.0251)" font-size="14.36" fill="#000">ev</text>
<text transform="translate(31.20,227.20) rotate(-90) scale(1.0000,1.0436)" font-size="23.89" fill="#000">/d mean p</text>
<text transform="translate(44.00,122.16) rotate(-90) scale(1.0000,1.2280)" font-size="12.98" fill="#000">T</text>
<text transform="translate(31.20,104.67) rotate(-90) scale(1.0000,1.0437)" font-size="23.88" fill="#000">[GeV]</text>
<text transform="translate(19.10,49.33) rotate(-90) scale(1.0000,1.1647)" font-size="12.69" fill="#000">&#8722;1</text>
<text transform="translate(62.59,604.40) scale(1.0000,1.0300)" font-size="14.50" fill="#000">&#8722;7</text>
<text transform="translate(39.78,613.60) scale(1.0000,1.1000)" font-size="20.50" fill="#000">10</text>
<text transform="translate(62.45,542.10) scale(1.0000,1.0300)" font-size="14.50" fill="#000">&#8722;6</text>
<text transform="translate(39.64,551.30) scale(1.0000,1.1000)" font-size="20.50" fill="#000">10</text>
<text transform="translate(62.45,479.80) scale(1.0000,1.0300)" font-size="14.50" fill="#000">&#8722;5</text>
<text transform="translate(39.64,489.00) scale(1.0000,1.1000)" font-size="20.50" fill="#000">10</text>
<text transform="translate(62.30,417.50) scale(1.0000,1.0300)" font-size="14.50" fill="#000">&#8722;4</text>
<text transform="translate(39.49,426.70) scale(1.0000,1.1000)" font-size="20.50" fill="#000">10</text>
<text transform="translate(62.45,355.20) scale(1.0000,1.0300)" font-size="14.50" fill="#000">&#8722;3</text>
<text transform="translate(39.64,364.40) scale(1.0000,1.1000)" font-size="20.50" fill="#000">10</text>
<text transform="translate(62.59,292.90) scale(1.0000,1.0300)" font-size="14.50" fill="#000">&#8722;2</text>
<text transform="translate(39.78,302.10) scale(1.0000,1.1000)" font-size="20.50" fill="#000">10</text>
<text transform="translate(62.59,230.60) scale(1.0000,1.0300)" font-size="14.50" fill="#000">&#8722;1</text>
<text transform="translate(39.78,239.80) scale(1.0000,1.1000)" font-size="20.50" fill="#000">10</text>
<text transform="translate(67.94,175.30) scale(1.0000,1.1000)" font-size="20.50" fill="#000">1</text>
<text transform="translate(56.46,113.00) scale(1.0000,1.1000)" font-size="20.50" fill="#000">10</text>
<text transform="translate(71.00,43.70) scale(1.0000,1.0300)" font-size="14.50" fill="#000">2</text>
<text transform="translate(48.19,52.90) scale(1.0000,1.1000)" font-size="20.50" fill="#000">10</text>
<text transform="translate(64.37,683.48) scale(1.0000,1.0400)" font-size="23.00" fill="#000">2</text>
<text transform="translate(747.55,683.48) scale(1.0000,1.0400)" font-size="23.00" fill="#000">2</text>
<text transform="translate(64.37,804.80) scale(1.0000,1.0400)" font-size="23.00" fill="#000">1</text>
<text transform="translate(746.86,804.80) scale(1.0000,1.0400)" font-size="23.00" fill="#000">1</text>
<text transform="translate(45.05,926.12) scale(1.0000,1.0400)" font-size="23.00" fill="#000">0.5</text>
<text transform="translate(747.78,926.12) scale(1.0000,1.0400)" font-size="23.00" fill="#000">0.5</text>
<text transform="translate(235.87,977.60) scale(1.0000,1.0300)" font-size="22.80" fill="#000">1</text>
<text transform="translate(485.02,977.60) scale(1.0000,1.0300)" font-size="22.80" fill="#000">2</text>
<text transform="translate(736.03,977.60) scale(1.0000,1.0300)" font-size="22.80" fill="#000">3</text>
<rect x="147.8" y="481.7" width="10.8" height="10.8" fill="#000"/>
<line x1="128.6" y1="513" x2="176" y2="513" stroke="#ff7f35" stroke-width="2" stroke-dasharray="7.5 3.5 2 3.5"/>
<rect x="149.1" y="509" width="8" height="8" fill="#ff7f35"/>
<line x1="128.6" y1="539.1" x2="177" y2="539.1" stroke="#0000e6" stroke-width="1.6"/>
<polygon points="148.3,544.7 158.1,544.7 153.2,534.3" fill="#0000e6"/>
</svg></body></html>
